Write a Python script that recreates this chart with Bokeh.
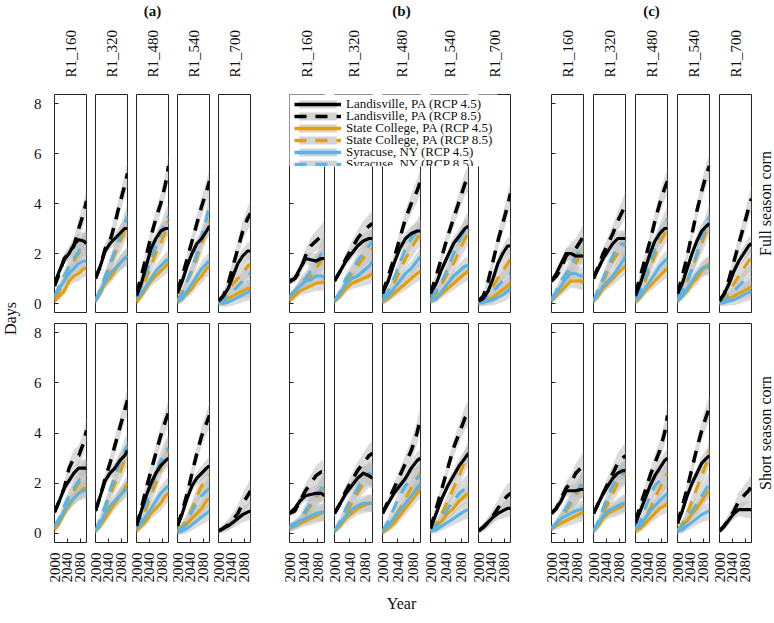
import math
from bokeh.plotting import figure
from bokeh.models import (Range1d, LinearAxis, FixedTicker, Label, Legend, LegendItem,
                          ColumnDataSource, GridBox)
from bokeh.embed import file_html
from bokeh.resources import INLINE

FONT = "Liberation Serif"

# ---------------- data ----------------
years = [2000, 2015, 2030, 2045, 2060, 2075, 2090, 2099]
col_labels = ["R1_160", "R1_320", "R1_480", "R1_540", "R1_700"]
group_labels = ["(a)", "(b)", "(c)"]
row_labels = ["Full season corn", "Short season corn"]
x_ticks = [2000, 2040, 2080]
y_ticks = [0, 2, 4, 6, 8]
series_names = ["Landisville, PA (RCP 4.5)", "Landisville, PA (RCP 8.5)",
                "State College, PA (RCP 4.5)", "State College, PA (RCP 8.5)",
                "Syracuse, NY (RCP 4.5)", "Syracuse, NY (RCP 8.5)"]
# half-width of the grey uncertainty ribbons (days)
band_45 = [0.12, 0.15, 0.18, 0.22, 0.26, 0.30, 0.34, 0.36]
band_85 = [0.12, 0.16, 0.22, 0.28, 0.34, 0.40, 0.46, 0.50]

# (a) Full season corn, one row per column label
a_full_land45 = [[0.8, 1.3, 1.75, 2.0, 2.35, 2.55, 2.5, 2.4], [1.0, 1.5, 2.1, 2.4, 2.6, 2.8, 3.0, 3.0],
                 [0.3, 0.8, 1.5, 2.2, 2.6, 2.9, 3.0, 3.0], [0.4, 0.9, 1.5, 2.0, 2.4, 2.6, 2.9, 3.1],
                 [0.1, 0.3, 0.6, 1.1, 1.6, 1.9, 2.1, 2.1]]
a_full_land85 = [[0.7, 1.2, 1.8, 2.0, 2.3, 3.0, 3.6, 4.1], [1.0, 1.5, 2.2, 2.5, 3.2, 4.0, 4.7, 5.2],
                 [0.4, 1.1, 1.9, 2.7, 3.4, 4.0, 4.8, 5.5], [0.5, 1.1, 1.8, 2.5, 3.2, 3.9, 4.5, 4.9],
                 [0.1, 0.3, 0.8, 1.5, 2.2, 2.9, 3.4, 3.6]]
a_full_sc45 = [[0.1, 0.3, 0.5, 0.9, 1.1, 1.2, 1.4, 1.4], [0.1, 0.4, 0.8, 1.0, 1.3, 1.6, 1.8, 1.9],
               [0.05, 0.3, 0.6, 0.9, 1.1, 1.3, 1.5, 1.6], [0.05, 0.2, 0.4, 0.6, 0.9, 1.1, 1.4, 1.5],
               [0.05, 0.1, 0.2, 0.3, 0.4, 0.5, 0.6, 0.6]]
a_full_sc85 = [[0.2, 0.5, 0.9, 1.3, 1.7, 2.0, 2.3, 2.4], [0.15, 0.5, 1.0, 1.5, 2.0, 2.4, 2.9, 3.2],
               [0.1, 0.5, 1.0, 1.5, 2.0, 2.4, 2.9, 3.3], [0.1, 0.5, 0.9, 1.3, 1.8, 2.4, 3.0, 3.3],
               [0.05, 0.2, 0.5, 0.8, 1.0, 1.2, 1.5, 1.55]]
a_full_syr45 = [[0.3, 0.6, 0.9, 1.2, 1.4, 1.6, 1.7, 1.7], [0.1, 0.5, 0.9, 1.2, 1.4, 1.6, 1.8, 1.9],
                [0.2, 0.4, 0.7, 1.0, 1.3, 1.5, 1.7, 1.75], [0.1, 0.2, 0.5, 0.8, 1.1, 1.4, 1.6, 1.7],
                [0.05, 0.0, 0.05, 0.15, 0.25, 0.35, 0.45, 0.5]]
a_full_syr85 = [[0.3, 0.7, 1.1, 1.5, 1.8, 2.1, 2.4, 2.5], [0.1, 0.6, 1.1, 1.6, 2.1, 2.7, 3.2, 3.5],
                [0.3, 0.7, 1.2, 1.8, 2.3, 2.8, 3.3, 3.5], [0.1, 0.4, 0.9, 1.4, 2.0, 2.7, 3.4, 4.0],
                [0.0, 0.1, 0.3, 0.5, 0.7, 0.9, 1.1, 1.2]]

# (a) Short season corn
a_short_land45 = [[0.85, 1.3, 1.8, 2.1, 2.4, 2.6, 2.6, 2.6], [0.9, 1.5, 2.1, 2.4, 2.6, 2.9, 3.1, 3.3],
                  [0.3, 0.9, 1.5, 2.0, 2.4, 2.7, 2.9, 3.0], [0.3, 0.8, 1.4, 1.9, 2.2, 2.4, 2.6, 2.7],
                  [0.1, 0.2, 0.3, 0.45, 0.6, 0.75, 0.85, 0.9]]
a_short_land85 = [[0.85, 1.3, 1.8, 2.6, 3.0, 3.1, 3.6, 4.1], [0.9, 1.5, 2.2, 2.8, 3.5, 4.2, 4.9, 5.3],
                  [0.3, 1.0, 1.8, 2.5, 3.2, 3.9, 4.5, 4.8], [0.3, 0.9, 1.6, 2.4, 3.2, 3.9, 4.4, 4.7],
                  [0.1, 0.2, 0.35, 0.55, 0.8, 1.2, 1.5, 1.7]]
a_short_sc45 = [[0.15, 0.4, 0.8, 1.1, 1.4, 1.6, 1.8, 1.8], [0.1, 0.3, 0.6, 0.9, 1.2, 1.5, 1.8, 2.0],
                [0.1, 0.3, 0.5, 0.8, 1.0, 1.2, 1.5, 1.6], [0.1, 0.2, 0.4, 0.6, 0.8, 1.0, 1.3, 1.4],
                None]
a_short_sc85 = [[0.2, 0.5, 0.9, 1.3, 1.7, 2.0, 2.3, 2.4], [0.1, 0.5, 1.0, 1.5, 2.0, 2.4, 2.9, 3.2],
                [0.1, 0.5, 1.0, 1.5, 2.0, 2.6, 3.1, 3.3], [0.1, 0.3, 0.6, 1.0, 1.5, 1.9, 2.2, 2.3],
                None]
a_short_syr45 = [[0.3, 0.5, 0.9, 1.2, 1.4, 1.6, 1.7, 1.75], [0.1, 0.4, 0.8, 1.1, 1.3, 1.5, 1.7, 1.8],
                 [0.2, 0.4, 0.7, 1.0, 1.3, 1.6, 1.8, 1.9], [0.05, 0.1, 0.2, 0.35, 0.5, 0.65, 0.8, 0.9],
                 None]
a_short_syr85 = [[0.3, 0.6, 1.1, 1.5, 1.8, 2.1, 2.4, 2.5], [0.1, 0.6, 1.1, 1.7, 2.3, 2.8, 3.3, 3.5],
                 [0.2, 0.6, 1.2, 1.8, 2.4, 2.9, 3.3, 3.4], [0.1, 0.2, 0.5, 0.9, 1.2, 1.5, 1.7, 1.8],
                 None]

# (b) Full season corn
b_full_land45 = [[0.85, 1.0, 1.4, 1.8, 1.75, 1.7, 1.8, 1.8], [0.9, 1.3, 1.7, 2.0, 2.3, 2.5, 2.6, 2.6],
                 [0.4, 0.9, 1.6, 2.2, 2.6, 2.8, 2.9, 2.9], [0.4, 0.8, 1.4, 1.9, 2.4, 2.7, 3.0, 3.1],
                 [0.1, 0.2, 0.5, 1.0, 1.6, 2.0, 2.3, 2.3]]
b_full_land85 = [[0.9, 1.0, 1.3, 1.9, 2.3, 2.5, 2.7, 2.85], [0.9, 1.3, 1.8, 2.2, 2.6, 2.9, 3.1, 3.2],
                 [0.4, 1.1, 1.8, 2.6, 3.4, 4.0, 4.5, 4.9], [0.4, 1.1, 1.9, 2.7, 3.4, 4.1, 4.8, 5.0],
                 [0.1, 0.3, 0.9, 1.7, 2.5, 3.2, 3.9, 4.4]]
b_full_sc45 = [[0.1, 0.3, 0.5, 0.6, 0.7, 0.8, 0.85, 0.85], [0.1, 0.3, 0.6, 0.8, 0.9, 1.0, 1.1, 1.2],
               [0.05, 0.2, 0.4, 0.6, 0.8, 1.0, 1.2, 1.3], [0.1, 0.2, 0.4, 0.6, 0.8, 1.0, 1.2, 1.3],
               [0.05, 0.05, 0.15, 0.25, 0.4, 0.55, 0.7, 0.8]]
b_full_sc85 = [[0.2, 0.4, 0.7, 0.9, 1.1, 1.4, 1.7, 2.0], [0.1, 0.4, 0.8, 1.2, 1.5, 1.8, 2.1, 2.2],
               [0.1, 0.4, 0.8, 1.3, 1.8, 2.2, 2.6, 2.8], [0.1, 0.4, 0.8, 1.2, 1.6, 2.1, 2.6, 2.9],
               [0.05, 0.2, 0.4, 0.7, 1.0, 1.3, 1.6, 1.8]]
b_full_syr45 = [[0.25, 0.5, 0.7, 0.9, 0.95, 1.1, 1.1, 1.05], [0.1, 0.4, 0.8, 1.0, 1.1, 1.3, 1.5, 1.7],
                [0.1, 0.3, 0.6, 0.9, 1.2, 1.4, 1.7, 1.9], [0.1, 0.2, 0.5, 0.8, 1.1, 1.3, 1.5, 1.5],
                [0.05, 0.05, 0.1, 0.15, 0.25, 0.35, 0.5, 0.6]]
b_full_syr85 = [[0.3, 0.5, 0.8, 1.0, 1.3, 1.6, 2.0, 2.3], [0.1, 0.5, 1.0, 1.3, 1.7, 2.0, 2.3, 2.5],
                [0.2, 0.5, 1.0, 1.6, 2.2, 2.6, 2.9, 3.1], [0.2, 0.5, 0.9, 1.4, 2.0, 2.5, 3.0, 3.2],
                [0.0, 0.1, 0.3, 0.5, 0.7, 0.9, 1.1, 1.2]]

# (b) Short season corn
b_short_land45 = [[0.8, 1.0, 1.3, 1.5, 1.55, 1.6, 1.6, 1.5], [0.8, 1.2, 1.6, 1.9, 2.2, 2.4, 2.3, 2.2],
                  [0.8, 1.2, 1.6, 1.9, 2.2, 2.6, 2.9, 3.0], [0.2, 0.8, 1.4, 1.9, 2.3, 2.7, 3.0, 3.2],
                  [0.1, 0.25, 0.45, 0.65, 0.8, 0.9, 1.0, 1.0]]
b_short_land85 = [[0.8, 0.9, 1.3, 1.7, 2.0, 2.3, 2.45, 2.4], [0.8, 1.2, 1.7, 2.1, 2.5, 2.8, 3.1, 3.2],
                  [0.8, 1.3, 1.8, 2.3, 2.8, 3.3, 4.0, 4.6], [0.2, 1.0, 1.8, 2.6, 3.4, 4.0, 4.6, 4.8],
                  [0.1, 0.25, 0.45, 0.7, 1.0, 1.3, 1.5, 1.6]]
b_short_sc45 = [[0.2, 0.3, 0.4, 0.5, 0.6, 0.7, 0.8, 0.85], [0.1, 0.3, 0.6, 0.8, 1.0, 1.1, 1.2, 1.2],
                [0.05, 0.2, 0.4, 0.7, 1.0, 1.3, 1.6, 1.8], [0.1, 0.3, 0.5, 0.8, 1.0, 1.3, 1.5, 1.6],
                None]
b_short_sc85 = [[0.2, 0.35, 0.5, 0.8, 1.1, 1.4, 1.7, 1.9], [0.1, 0.4, 0.8, 1.2, 1.6, 2.0, 2.3, 2.3],
                [0.05, 0.3, 0.6, 1.0, 1.4, 1.8, 2.2, 2.4], [0.1, 0.4, 0.8, 1.3, 1.8, 2.3, 2.9, 3.2],
                None]
b_short_syr45 = [[0.3, 0.4, 0.5, 0.6, 0.7, 0.8, 0.85, 0.85], [0.1, 0.4, 0.7, 0.95, 1.1, 1.2, 1.2, 1.2],
                 [0.1, 0.3, 0.6, 0.9, 1.2, 1.5, 1.8, 2.0], [0.1, 0.15, 0.3, 0.45, 0.6, 0.75, 0.9, 0.95],
                 None]
b_short_syr85 = [[0.2, 0.3, 0.5, 0.9, 1.2, 1.5, 1.8, 2.0], [0.1, 0.5, 1.0, 1.4, 1.8, 2.2, 2.4, 2.3],
                 [0.1, 0.5, 1.0, 1.5, 1.9, 2.1, 2.2, 2.3], [0.1, 0.3, 0.6, 1.0, 1.3, 1.6, 1.8, 1.9],
                 None]

# (c) Full season corn
c_full_land45 = [[0.9, 1.2, 1.6, 2.0, 2.0, 1.9, 1.9, 1.9], [1.0, 1.4, 1.8, 2.1, 2.4, 2.6, 2.6, 2.6],
                 [0.3, 0.8, 1.4, 2.0, 2.5, 2.8, 3.0, 3.0], [0.4, 0.8, 1.4, 2.0, 2.5, 2.9, 3.1, 3.2],
                 [0.1, 0.4, 0.8, 1.3, 1.7, 2.0, 2.3, 2.4]]
c_full_land85 = [[0.9, 1.1, 1.4, 1.9, 2.1, 2.2, 2.5, 2.7], [1.0, 1.5, 2.0, 2.4, 2.8, 3.3, 3.7, 4.0],
                 [0.4, 1.1, 1.8, 2.5, 3.3, 4.0, 4.6, 4.9], [0.4, 1.1, 1.9, 2.8, 3.7, 4.5, 5.2, 5.5],
                 [0.1, 0.4, 1.0, 1.7, 2.4, 3.1, 3.8, 4.2]]
c_full_sc45 = [[0.1, 0.3, 0.5, 0.7, 0.9, 0.9, 0.9, 0.85], [0.1, 0.3, 0.6, 0.8, 1.0, 1.2, 1.4, 1.5],
               [0.05, 0.25, 0.5, 0.7, 0.9, 1.1, 1.3, 1.4], [0.1, 0.3, 0.5, 0.8, 1.0, 1.3, 1.5, 1.6],
               [0.05, 0.1, 0.2, 0.3, 0.4, 0.5, 0.6, 0.65]]
c_full_sc85 = [[0.2, 0.4, 0.7, 1.0, 1.3, 1.6, 2.0, 2.2], [0.1, 0.5, 0.9, 1.3, 1.7, 2.0, 2.3, 2.4],
               [0.1, 0.5, 0.9, 1.4, 1.9, 2.4, 2.8, 3.0], [0.1, 0.5, 0.9, 1.4, 1.9, 2.4, 2.9, 3.2],
               [0.05, 0.2, 0.5, 0.8, 1.1, 1.4, 1.7, 1.8]]
c_full_syr45 = [[0.1, 0.4, 0.7, 1.0, 1.2, 1.2, 1.1, 1.1], [0.1, 0.4, 0.7, 0.9, 1.1, 1.4, 1.7, 1.9],
                [0.1, 0.3, 0.6, 0.9, 1.2, 1.5, 1.7, 1.8], [0.1, 0.3, 0.6, 0.9, 1.2, 1.4, 1.5, 1.4],
                [0.05, 0.05, 0.1, 0.15, 0.25, 0.35, 0.45, 0.5]]
c_full_syr85 = [[0.2, 0.5, 0.9, 1.2, 1.5, 1.9, 2.2, 2.3], [0.1, 0.6, 1.0, 1.5, 1.9, 2.3, 2.4, 2.3],
                [0.2, 0.5, 1.0, 1.6, 2.2, 2.8, 3.2, 3.4], [0.2, 0.5, 0.9, 1.4, 2.0, 2.6, 3.2, 3.5],
                [0.0, 0.1, 0.3, 0.5, 0.7, 0.9, 1.0, 1.1]]

# (c) Short season corn
c_short_land45 = [[0.8, 1.0, 1.3, 1.7, 1.7, 1.7, 1.75, 1.75], [0.8, 1.2, 1.6, 1.9, 2.2, 2.4, 2.5, 2.5],
                  [0.4, 0.9, 1.4, 1.9, 2.3, 2.6, 2.9, 3.0], [0.4, 0.9, 1.5, 2.0, 2.4, 2.8, 3.0, 3.1],
                  [0.1, 0.3, 0.55, 0.8, 0.95, 0.95, 0.95, 0.95]]
c_short_land85 = [[0.8, 1.0, 1.4, 1.8, 2.0, 2.4, 2.6, 2.8], [0.8, 1.2, 1.6, 2.0, 2.4, 2.8, 3.0, 3.1],
                  [0.5, 1.1, 1.7, 2.3, 2.8, 3.3, 4.0, 4.7], [0.4, 1.1, 1.8, 2.6, 3.4, 4.1, 4.7, 5.0],
                  [0.1, 0.3, 0.6, 0.9, 1.3, 1.5, 1.7, 1.9]]
c_short_sc45 = [[0.2, 0.3, 0.4, 0.5, 0.6, 0.7, 0.8, 0.85], [0.1, 0.3, 0.6, 0.8, 0.9, 1.0, 1.1, 1.2],
                [0.1, 0.2, 0.4, 0.6, 0.8, 1.0, 1.1, 1.2], [0.1, 0.3, 0.5, 0.8, 1.0, 1.3, 1.6, 1.7],
                None]
c_short_sc85 = [[0.2, 0.4, 0.6, 0.9, 1.2, 1.5, 1.8, 2.0], [0.1, 0.4, 0.8, 1.2, 1.6, 2.0, 2.3, 2.4],
                [0.1, 0.3, 0.6, 1.0, 1.4, 1.8, 2.2, 2.4], [0.1, 0.4, 0.8, 1.3, 1.8, 2.3, 2.8, 3.3],
                None]
c_short_syr45 = [[0.2, 0.4, 0.6, 0.7, 0.8, 0.9, 0.95, 1.0], [0.1, 0.4, 0.7, 0.9, 1.0, 1.1, 1.2, 1.2],
                 [0.2, 0.3, 0.6, 0.9, 1.1, 1.3, 1.5, 1.6], [0.1, 0.15, 0.3, 0.45, 0.6, 0.75, 0.85, 0.9],
                 None]
c_short_syr85 = [[0.2, 0.4, 0.7, 1.0, 1.3, 1.6, 1.9, 2.0], [0.1, 0.5, 1.0, 1.5, 1.9, 2.2, 2.4, 2.5],
                 [0.2, 0.5, 1.0, 1.5, 1.9, 2.1, 2.2, 2.3], [0.1, 0.3, 0.6, 0.9, 1.2, 1.5, 1.8, 2.0],
                 None]

DATA = [
    [[a_full_land45, a_full_land85, a_full_sc45, a_full_sc85, a_full_syr45, a_full_syr85],
     [a_short_land45, a_short_land85, a_short_sc45, a_short_sc85, a_short_syr45, a_short_syr85]],
    [[b_full_land45, b_full_land85, b_full_sc45, b_full_sc85, b_full_syr45, b_full_syr85],
     [b_short_land45, b_short_land85, b_short_sc45, b_short_sc85, b_short_syr45, b_short_syr85]],
    [[c_full_land45, c_full_land85, c_full_sc45, c_full_sc85, c_full_syr45, c_full_syr85],
     [c_short_land45, c_short_land85, c_short_sc45, c_short_sc85, c_short_syr45, c_short_syr85]],
]

# ---------------- style / geometry ----------------
ORANGE = "#E69F00"
BLUE = "#56B4E9"
series_color = ["black", "black", ORANGE, ORANGE, BLUE, BLUE]
series_dash = ["solid", "12 9", "solid", "12 9", "solid", "12 9"]
series_width = [3.2, 3.5, 3, 3, 3, 3]
RIBBON = "#bdbdbd"
RIBBON_ALPHA = 0.55
FRAME_COLOR = "#222222"
TEXT_COLOR = "#111111"
X_LIM = (2000, 2099)
Y_LIM = (-0.36, 8.36)
X_MID = (X_LIM[0] + X_LIM[1]) / 2

DAYS_W = 28
STRIP_W = 19
FRAME_W = [32, 38, 32]
FIRST_LB = [26, 33, 31]
INNER_LB = [6, 6, 6]
RBS = [3, 4, 4]
TITLE_H = 22
ROW_H = [295, 303]
ROW_MB = [(72, 5), (6, 78)]   # (top, bottom) borders

# legend box (white panel overlaid on group (b)), in px
LEG_LEFT, LEG_TOP, LEG_W, LEG_H = 36, 71, 208, 78
LEG_PAD_R = 10
LEG_ROW0, LEG_STEP, LEG_ENTRY_H = 8, 12, 16


def plain(w, h, xr, yr, **borders):
    f = figure(width=w, height=h, x_range=Range1d(*xr), y_range=Range1d(*yr),
               x_axis_location=None, y_axis_location=None, toolbar_location=None,
               output_backend="svg", min_border_left=borders.get("left", 0),
               min_border_right=borders.get("right", 0), min_border_top=borders.get("top", 0),
               min_border_bottom=borders.get("bottom", 0))
    f.xgrid.visible = False
    f.ygrid.visible = False
    f.outline_line_color = None
    f.background_fill_color = None
    f.border_fill_color = None
    return f


def geom(g, c):
    lb = FIRST_LB[g] if c == 0 else INNER_LB[g]
    return lb, FRAME_W[g], RBS[g]


def panel(g, s, c):
    lb, fw, rb = geom(g, c)
    mt, mbot = ROW_MB[s]
    p = figure(width=lb + fw + rb, height=ROW_H[s], x_range=Range1d(*X_LIM), y_range=Range1d(*Y_LIM),
               x_axis_location=None, y_axis_location=None, toolbar_location=None,
               output_backend="svg", min_border_left=lb, min_border_right=rb,
               min_border_top=mt, min_border_bottom=mbot)
    p.xgrid.visible = False
    p.ygrid.visible = False
    p.outline_line_color = FRAME_COLOR
    p.outline_line_width = 1
    p.background_fill_color = "white"
    p.border_fill_color = None

    if c == 0:
        yax = LinearAxis(ticker=FixedTicker(ticks=y_ticks), major_tick_in=4, major_tick_out=0,
                         minor_tick_line_color=None, axis_line_color=None,
                         major_tick_line_color=FRAME_COLOR,
                         major_label_text_font=FONT, major_label_text_font_size="15px",
                         major_label_standoff=13)
        if g == 0:
            yax.major_label_text_color = TEXT_COLOR
        else:
            yax.major_label_text_color = None   # ticks only
        p.add_layout(yax, "left")

    if s == 1:
        xax = LinearAxis(ticker=FixedTicker(ticks=x_ticks), major_tick_in=4, major_tick_out=0,
                         minor_tick_line_color=None, axis_line_color=None,
                         major_tick_line_color=FRAME_COLOR,
                         major_label_orientation=math.pi / 2, major_label_standoff=10,
                         major_label_text_font=FONT, major_label_text_font_size="15px",
                         major_label_text_color=TEXT_COLOR)
        if g == 1 and c == 2:
            xax.axis_label = "Year"
            xax.axis_label_text_font = FONT
            xax.axis_label_text_font_size = "16px"
            xax.axis_label_text_font_style = "normal"
            xax.axis_label_standoff = 9
            xax.axis_label_text_color = TEXT_COLOR
        p.add_layout(xax, "below")
    else:
        # column label as a single overridden tick at the panel centre
        cax = LinearAxis(ticker=FixedTicker(ticks=[X_MID]), major_label_overrides={X_MID: col_labels[c]},
                         major_label_orientation=math.pi / 2,
                         major_tick_line_color=None, minor_tick_line_color=None,
                         axis_line_color=None, major_label_standoff=11,
                         major_label_text_font=FONT, major_label_text_font_size="15px",
                         major_label_text_color=TEXT_COLOR)
        p.add_layout(cax, "above")

    series = DATA[g][s]
    for k in range(6):
        vals = series[k][c]
        if vals is None:
            continue
        band = band_45 if k % 2 == 0 else band_85
        lo = [v - b for v, b in zip(vals, band)]
        hi = [v + b for v, b in zip(vals, band)]
        p.varea(x=years, y1=lo, y2=hi, fill_color=RIBBON, fill_alpha=RIBBON_ALPHA)
    for k in [2, 3, 4, 5, 0, 1]:
        vals = series[k][c]
        if vals is None:
            continue
        p.line(years, vals, line_color=series_color[k], line_width=series_width[k],
               line_dash=series_dash[k], line_join="round")
    return p


children = []

# column start positions
col_x = [DAYS_W]
for g in range(3):
    for c in range(5):
        lb, fw, rb = geom(g, c)
        col_x.append(col_x[-1] + lb + fw + rb)
total_w = col_x[-1] + STRIP_W

# title row
tfig = plain(total_w, TITLE_H, (0, total_w), (0, TITLE_H))
for g in range(3):
    lb, fw, rb = geom(g, 2)
    xc = col_x[g * 5 + 2] + lb + fw / 2
    tfig.add_layout(Label(x=xc, y=TITLE_H - 10, text=group_labels[g], text_align="center",
                          text_baseline="middle", text_font=FONT, text_font_size="15px",
                          text_font_style="bold", text_color=TEXT_COLOR))
children.append((tfig, 0, 0, 1, 17))

# Days
dfig = plain(DAYS_W, ROW_H[0] + ROW_H[1], (0, DAYS_W), (0, 1),
             top=ROW_MB[0][0], bottom=ROW_MB[1][1])
dfig.add_layout(Label(x=10, y=0.5, text="Days", angle=math.pi / 2, text_align="center",
                      text_baseline="middle", text_font=FONT, text_font_size="16px",
                      text_color=TEXT_COLOR))
children.append((dfig, 1, 0, 2, 1))

# panels
for s in range(2):
    for g in range(3):
        for c in range(5):
            children.append((panel(g, s, c), 1 + s, 1 + g * 5 + c))
    sfig = plain(STRIP_W, ROW_H[s], (0, STRIP_W), (0, 1), top=ROW_MB[s][0], bottom=ROW_MB[s][1])
    sfig.add_layout(Label(x=10, y=0.5, text=row_labels[s], angle=math.pi / 2,
                          text_align="center", text_baseline="middle", text_font=FONT,
                          text_font_size="16px", text_color=TEXT_COLOR))
    children.append((sfig, 1 + s, 16))

# legend overlay over group (b), top row: white frame = legend box, one compact entry per series
lfig = plain(LEG_LEFT + LEG_W + LEG_PAD_R, LEG_TOP + LEG_H, (0, 1), (0, 1),
             left=LEG_LEFT, top=LEG_TOP, right=LEG_PAD_R)
lfig.background_fill_color = "white"
for k in range(6):
    # legend-only renderers: points placed outside the visible range
    src = ColumnDataSource(data=dict(x=[5, 6], y=[5, 5], y1=[5, 5], y2=[6, 6]))
    r1 = lfig.varea(x="x", y1="y1", y2="y2", source=src, fill_color="#d4d4d4", fill_alpha=1.0)
    r2 = lfig.line(x="x", y="y", source=src, line_color=series_color[k], line_width=3.3,
                   line_dash=series_dash[k])
    vy = LEG_H - (LEG_ROW0 + LEG_STEP * k) - LEG_ENTRY_H
    leg = Legend(items=[LegendItem(label=series_names[k], renderers=[r1, r2])],
                 location=(5, vy), margin=0, padding=0, spacing=0,
                 glyph_width=47, glyph_height=10, label_height=10, label_standoff=5,
                 label_text_font=FONT, label_text_font_size="13px",
                 label_text_color=TEXT_COLOR,
                 background_fill_color=None, border_line_color=None)
    lfig.add_layout(leg)
children.append((lfig, 1, 6, 1, 5))

layout = GridBox(children=children, spacing=0)

open("out.html", "w").write(file_html(layout, INLINE))
